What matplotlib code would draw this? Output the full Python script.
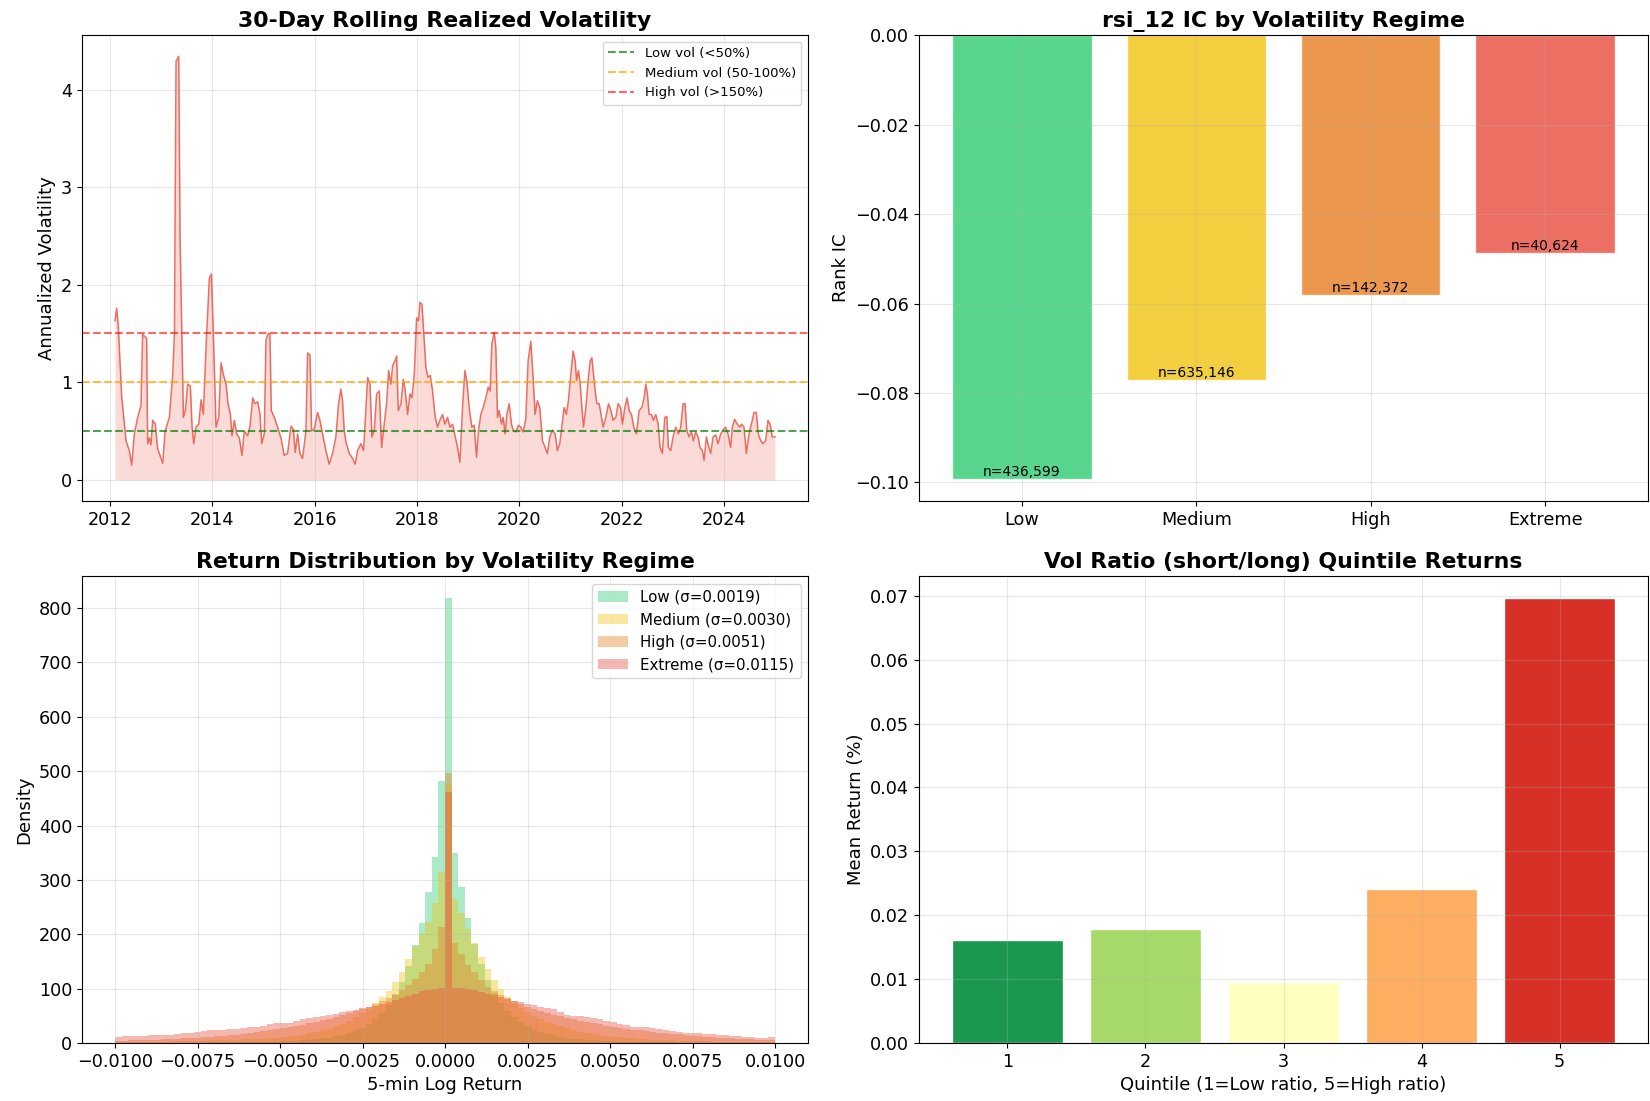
import numpy as np
import pandas as pd
import matplotlib
matplotlib.use('Agg')
import matplotlib.pyplot as plt

# 30-day rolling realized volatility (decimal year, annualized vol)
vol_year = [2012.097, 2012.130, 2012.162, 2012.195, 2012.227, 2012.260, 2012.312, 2012.377, 2012.423, 2012.475,
            2012.540, 2012.605, 2012.637, 2012.715, 2012.735, 2012.768, 2012.800, 2012.833, 2012.885, 2012.930,
            2012.995, 2013.028, 2013.074, 2013.158, 2013.223, 2013.256, 2013.288, 2013.340, 2013.367, 2013.406,
            2013.432, 2013.471, 2013.516, 2013.568, 2013.601, 2013.633, 2013.679, 2013.731, 2013.777, 2013.822,
            2013.874, 2013.939, 2013.979, 2014.018, 2014.070, 2014.122, 2014.167, 2014.213, 2014.265, 2014.304,
            2014.350, 2014.382, 2014.428, 2014.473, 2014.525, 2014.577, 2014.623, 2014.688, 2014.734, 2014.786,
            2014.831, 2014.883, 2014.929, 2014.962, 2015.014, 2015.046, 2015.092, 2015.124, 2015.150, 2015.209,
            2015.274, 2015.339, 2015.404, 2015.469, 2015.534, 2015.580, 2015.619, 2015.665, 2015.710, 2015.762,
            2015.827, 2015.860, 2015.906, 2015.938, 2015.990, 2016.055, 2016.101, 2016.153, 2016.218, 2016.283,
            2016.348, 2016.413, 2016.465, 2016.511, 2016.543, 2016.576, 2016.609, 2016.674, 2016.739, 2016.791,
            2016.836, 2016.901, 2016.954, 2017.032, 2017.077, 2017.116, 2017.162, 2017.207, 2017.260, 2017.305,
            2017.357, 2017.403, 2017.442, 2017.487, 2017.520, 2017.566, 2017.598, 2017.631, 2017.683, 2017.728,
            2017.767, 2017.813, 2017.859, 2017.898, 2017.943, 2017.989, 2018.028, 2018.054, 2018.093, 2018.125,
            2018.171, 2018.210, 2018.256, 2018.301, 2018.353, 2018.399, 2018.451, 2018.496, 2018.542, 2018.594,
            2018.640, 2018.692, 2018.744, 2018.790, 2018.835, 2018.887, 2018.933, 2018.972, 2019.017, 2019.069,
            2019.115, 2019.161, 2019.200, 2019.245, 2019.291, 2019.343, 2019.389, 2019.427, 2019.460, 2019.506,
            2019.538, 2019.571, 2019.603, 2019.649, 2019.681, 2019.720, 2019.753, 2019.799, 2019.844, 2019.877,
            2019.929, 2019.981, 2020.026, 2020.072, 2020.124, 2020.170, 2020.222, 2020.267, 2020.306, 2020.352,
            2020.398, 2020.450, 2020.502, 2020.547, 2020.593, 2020.645, 2020.697, 2020.743, 2020.788, 2020.827,
            2020.873, 2020.918, 2020.957, 2021.003, 2021.048, 2021.087, 2021.114, 2021.153, 2021.185, 2021.218,
            2021.250, 2021.296, 2021.341, 2021.380, 2021.413, 2021.446, 2021.478, 2021.511, 2021.556, 2021.602,
            2021.634, 2021.686, 2021.739, 2021.784, 2021.830, 2021.882, 2021.927, 2021.973, 2022.012, 2022.058,
            2022.103, 2022.142, 2022.188, 2022.233, 2022.285, 2022.337, 2022.390, 2022.435, 2022.468, 2022.500,
            2022.533, 2022.578, 2022.617, 2022.663, 2022.709, 2022.748, 2022.793, 2022.839, 2022.878, 2022.910,
            2022.956, 2023.002, 2023.054, 2023.106, 2023.151, 2023.197, 2023.236, 2023.268, 2023.314, 2023.360,
            2023.399, 2023.444, 2023.490, 2023.529, 2023.574, 2023.607, 2023.653, 2023.692, 2023.737, 2023.783,
            2023.835, 2023.880, 2023.933, 2023.978, 2024.030, 2024.076, 2024.128, 2024.160, 2024.206, 2024.258,
            2024.304, 2024.343, 2024.388, 2024.434, 2024.486, 2024.532, 2024.584, 2024.629, 2024.668, 2024.714,
            2024.759, 2024.811, 2024.857, 2024.896, 2024.941, 2024.994]
vol_value = [1.63, 1.76, 1.57, 1.20, 0.85, 0.68, 0.40, 0.30, 0.15, 0.47,
             0.64, 0.76, 1.49, 1.45, 0.37, 0.43, 0.36, 0.61, 0.57, 0.32,
             0.22, 0.17, 0.50, 0.64, 1.08, 1.49, 4.29, 4.34, 2.45, 1.36,
             0.64, 0.71, 0.98, 0.96, 0.54, 0.37, 0.54, 0.57, 0.82, 0.67,
             1.36, 2.07, 2.11, 1.49, 0.54, 0.64, 1.20, 1.08, 0.98, 0.78,
             0.67, 0.45, 0.61, 0.47, 0.43, 0.25, 0.50, 0.45, 0.55, 0.84,
             0.78, 0.80, 0.67, 0.37, 0.47, 1.43, 1.50, 1.49, 0.71, 0.64,
             0.54, 0.43, 0.25, 0.27, 0.55, 0.52, 0.28, 0.47, 0.27, 0.22,
             0.50, 1.30, 1.28, 0.50, 0.52, 0.69, 0.61, 0.47, 0.30, 0.16,
             0.27, 0.44, 0.78, 0.93, 0.81, 0.51, 0.39, 0.27, 0.22, 0.16,
             0.30, 0.37, 0.30, 1.05, 0.98, 0.44, 0.51, 0.88, 0.91, 0.33,
             0.57, 0.79, 1.12, 0.98, 1.17, 1.22, 1.27, 0.71, 0.78, 1.03,
             0.91, 0.67, 0.88, 0.84, 1.08, 1.66, 1.63, 1.82, 1.80, 1.53,
             1.15, 1.05, 1.07, 0.91, 0.64, 0.54, 0.62, 0.67, 0.57, 0.64,
             0.54, 0.57, 0.44, 0.33, 0.18, 0.74, 1.12, 1.01, 0.74, 0.54,
             0.56, 0.23, 0.51, 0.67, 0.74, 0.84, 0.95, 0.91, 1.39, 1.51,
             1.36, 0.64, 0.71, 0.57, 0.64, 0.47, 0.67, 0.78, 0.57, 0.51,
             0.49, 0.56, 0.54, 0.49, 0.62, 1.22, 1.42, 1.05, 0.67, 0.81,
             0.74, 0.40, 0.33, 0.27, 0.44, 0.51, 0.47, 0.30, 0.37, 0.54,
             0.74, 0.67, 0.81, 1.08, 1.32, 1.22, 1.02, 1.12, 0.98, 0.74,
             0.54, 0.74, 1.02, 1.22, 1.25, 1.08, 0.91, 0.78, 0.78, 0.64,
             0.54, 0.64, 0.78, 0.71, 0.61, 0.64, 0.78, 0.74, 0.57, 0.74,
             0.84, 0.71, 0.67, 0.54, 0.47, 0.71, 0.74, 0.84, 0.98, 0.88,
             0.67, 0.67, 0.61, 0.67, 0.57, 0.33, 0.27, 0.64, 0.65, 0.33,
             0.30, 0.44, 0.54, 0.47, 0.54, 0.78, 0.78, 0.51, 0.44, 0.49,
             0.40, 0.49, 0.44, 0.33, 0.30, 0.20, 0.44, 0.35, 0.27, 0.44,
             0.46, 0.37, 0.47, 0.51, 0.54, 0.47, 0.33, 0.54, 0.62, 0.57,
             0.54, 0.57, 0.54, 0.27, 0.47, 0.57, 0.69, 0.69, 0.47, 0.40,
             0.37, 0.40, 0.61, 0.57, 0.44, 0.44]

# rank IC of rsi_12 per volatility regime
regimes = ['Low', 'Medium', 'High', 'Extreme']
regime_ic = [-0.0992, -0.0771, -0.0582, -0.0486]
regime_n = [436599, 635146, 142372, 40624]
regime_colors = ['#2ecc71', '#f1c40f', '#e67e22', '#e74c3c']

# 5-min log return density per regime, 100 bins over [-0.01, 0.01]
hist_edges = np.linspace(-0.01, 0.01, 101)
dens_low = [0.3, 0.3, 0.3, 0.4, 0.4, 0.4, 0.5, 0.5, 0.5, 0.6,
            0.6, 0.7, 0.7, 0.8, 0.9, 1.0, 1.1, 1.2, 1.3, 1.5,
            1.7, 1.9, 2.1, 2.4, 2.6, 3.0, 3.6, 4.2, 5.0, 6.0,
            7.0, 8.5, 10, 12.5, 15, 19, 23, 28, 35, 44,
            55, 70, 88, 112, 142, 180, 221, 277, 343, 481,
            818, 350, 286, 229, 182, 146, 116, 92, 74, 59,
            47, 38, 31, 25, 20.5, 17, 14, 11.5, 9.5, 8.0,
            6.6, 5.5, 4.6, 3.9, 3.3, 2.8, 2.4, 2.1, 1.8, 1.6,
            1.4, 1.2, 1.1, 1.0, 0.9, 0.8, 0.7, 0.6, 0.6, 0.5,
            0.5, 0.4, 0.4, 0.4, 0.3, 0.3, 0.3, 0.3, 0.3, 0.3]
dens_medium = [1.5, 1.6, 1.7, 1.8, 2.0, 2.1, 2.3, 2.5, 2.7, 2.9,
               3.1, 3.4, 3.7, 4.0, 4.3, 4.7, 5.1, 5.5, 6.0, 6.5,
               7.0, 7.6, 8.2, 8.9, 9.6, 10.5, 12, 13.5, 15.5, 17.5,
               20, 23, 26.5, 30.5, 35, 41, 48, 55, 63, 73,
               84, 96, 112, 130, 154, 178, 200, 223, 258, 315,
               475, 265, 240, 210, 184, 158, 136, 116, 99, 85,
               74, 65, 57, 50, 44, 39, 34.5, 30.5, 27, 24,
               21, 18.5, 16.5, 14.5, 13, 11.5, 10.3, 9.2, 8.3, 7.5,
               6.8, 6.2, 5.6, 5.1, 4.6, 4.2, 3.8, 3.5, 3.2, 2.9,
               2.7, 2.5, 2.3, 2.1, 1.9, 1.8, 1.7, 1.6, 1.5, 1.4]
dens_high = [4.0, 4.3, 4.6, 5.0, 5.4, 5.8, 6.2, 6.7, 7.2, 7.8,
             8.4, 9.0, 9.7, 10.5, 11.3, 12.2, 13.2, 14.3, 15.5, 16.8,
             18.2, 19.7, 21.3, 23.0, 24.8, 26.7, 28.7, 31, 33.5, 36,
             39, 42, 45, 48.5, 52, 55.5, 59.5, 63, 67, 72,
             77, 83, 90, 98, 107, 118, 130, 146, 173, 213,
             497, 183, 164, 143, 130, 115, 103, 95, 88, 82,
             77, 72, 67, 63, 59, 55.5, 52, 49, 46, 43.5,
             41, 38.5, 36, 34, 32, 30, 28, 26.3, 24.7, 23.2,
             21.8, 20.4, 19.1, 17.9, 16.7, 15.6, 14.5, 13.5, 12.5, 11.6,
             10.8, 10.0, 9.3, 8.6, 8.0, 7.4, 6.8, 6.3, 5.8, 5.3]
dens_extreme = [11, 12, 13, 13, 13.6, 14, 15.4, 15, 15.4, 17,
                18, 19, 20, 22, 24, 23, 23.5, 25, 26, 27.5,
                29, 30, 31.5, 34, 36.4, 37, 36.4, 40, 44, 46,
                47.5, 49, 50.6, 54, 57, 59, 61, 63.5, 66, 68.5,
                71, 75, 79, 83, 87, 91, 95, 97, 99, 101,
                461, 102, 101, 99, 97, 94, 91, 88, 85, 81,
                78, 75, 72, 69.5, 67, 65, 63, 57, 51, 50,
                49, 47.5, 46, 43.5, 41, 38, 35, 32.5, 30, 29.5,
                29, 27, 25, 23.5, 22, 20.5, 19, 18.5, 18, 17,
                16, 15, 14, 13, 12.3, 11.4, 10.5, 9.5, 8.6, 10.5]
regime_sigma = [0.0019, 0.0030, 0.0051, 0.0115]

# mean forward return per vol-ratio quintile
quintiles = [1, 2, 3, 4, 5]
quintile_ret = [0.0161, 0.0179, 0.0096, 0.0241, 0.0696]
quintile_colors = ['#1a9850', '#a6d96a', '#ffffbf', '#fdae61', '#d73027']

plt.rcParams['font.size'] = 13
plt.rcParams['xtick.labelsize'] = 12.7
plt.rcParams['ytick.labelsize'] = 12.7
TITLE_KW = dict(fontsize=15.8, fontweight='bold')

fig, axes = plt.subplots(2, 2, figsize=(16.5, 11.01), dpi=100)
ax1, ax2, ax3, ax4 = axes.flatten()
ax1.set_position([0.0497, 0.545, 0.440, 0.423])
ax2.set_position([0.5570, 0.545, 0.4418, 0.423])
ax3.set_position([0.0497, 0.0527, 0.440, 0.4241])
ax4.set_position([0.5570, 0.0527, 0.4418, 0.4241])

# panel 1: rolling volatility
yrs = np.array(vol_year)
dates = pd.to_datetime([pd.Timestamp(int(y), 1, 1) + pd.Timedelta(days=(y - int(y)) * 365.25) for y in yrs])
ax1.plot(dates, vol_value, color='#e74c3c', linewidth=1.1, alpha=0.8)
ax1.fill_between(dates, 0, vol_value, color='#e74c3c', alpha=0.2, linewidth=0)
ax1.axhline(0.5, color='green', linestyle='--', alpha=0.7, linewidth=1.5, label='Low vol (<50%)')
ax1.axhline(1.0, color='orange', linestyle='--', alpha=0.7, linewidth=1.5, label='Medium vol (50-100%)')
ax1.axhline(1.5, color='red', linestyle='--', alpha=0.6, linewidth=1.5, label='High vol (>150%)')
ax1.set_ylabel('Annualized Volatility')
ax1.set_title('30-Day Rolling Realized Volatility', **TITLE_KW)
ax1.legend(loc='upper right', fontsize=9.5)
ax1.grid(True, alpha=0.3)

# panel 2: IC per regime
x = np.arange(len(regimes))
ax2.bar(x, regime_ic, color=regime_colors, alpha=0.8, edgecolor='white')
for xi, ic, n in zip(x, regime_ic, regime_n):
    ax2.text(xi, ic, f'n={n:,}', ha='center', va='bottom', fontsize=10)
ax2.set_xticks(x)
ax2.set_xticklabels(regimes)
ax2.set_ylabel('Rank IC')
ax2.set_title('rsi_12 IC by Volatility Regime', **TITLE_KW)
ax2.grid(True, alpha=0.3)

# panel 3: return distributions
densities = [dens_low, dens_medium, dens_high, dens_extreme]
for name, dens, sig, c in zip(regimes, densities, regime_sigma, regime_colors):
    ax3.hist(hist_edges[:-1], bins=hist_edges, weights=dens, color=c, alpha=0.4,
             label=f'{name} (σ={sig:.4f})')
ax3.set_xlabel('5-min Log Return')
ax3.set_ylabel('Density')
ax3.set_title('Return Distribution by Volatility Regime', **TITLE_KW)
ax3.legend(loc='upper right', fontsize=10.8)
ax3.grid(True, alpha=0.3)

# panel 4: quintile returns
ax4.bar(quintiles, quintile_ret, color=quintile_colors, edgecolor='white')
ax4.set_xlabel('Quintile (1=Low ratio, 5=High ratio)')
ax4.set_ylabel('Mean Return (%)')
ax4.set_title('Vol Ratio (short/long) Quintile Returns', **TITLE_KW)
ax4.grid(True, alpha=0.3)

fig.savefig('out.png', dpi=100)
